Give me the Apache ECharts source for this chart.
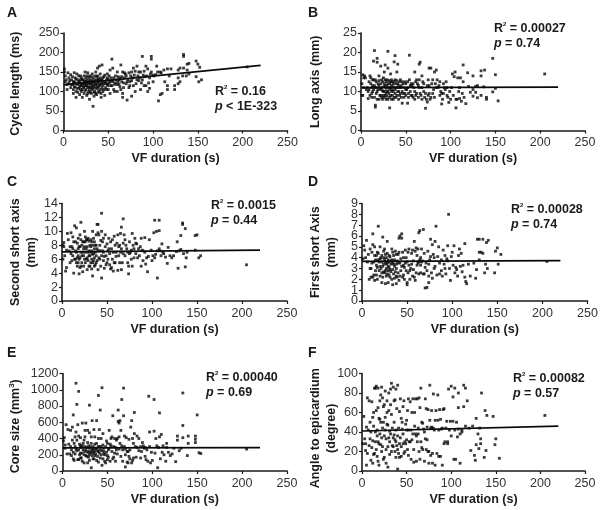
<!DOCTYPE html>
<html><head><meta charset="utf-8">
<style>html,body{margin:0;padding:0;background:#fff}#c{width:602px;height:510px}</style>
<script src="https://cdn.jsdelivr.net/npm/echarts@6/dist/echarts.min.js"></script>
</head><body><div id="c"></div>
<script>
const xTicksMax = 250;
const firstShortEvenTicks=[0,2,4,6,8], firstShortOddTicks=[1,3,5,7,9];
const trendA=[[0,117],[220,167]], trendB=[[0,11],[220,11.1]], trendC=[[0,7.05],[220,7.3]],
      trendD=[[0,3.65],[220,3.72]], trendE=[[0,285],[220,288]], trendF=[[0,41],[220,46]];
const pointsA=[[205,163],[134,195],[134,190],[98,190],[98,183],[88,190],[54,183],[148,178],[150,170],[152,162],[154,130],[106,76],[33,62],[140,172],[138,170],[134,160],[130,160],[138,155],[128,155],[140,145],[137,140],[148,138],[151,125],[124,105],[124,115],[116,105],[116,115],[110,95],[108,92],[130,125],[128,120],[128,135],[133,140],[120,158],[116,158],[112,155],[108,150],[103,143],[100,142],[96,135],[95,122],[92,115],[94,100],[96,108],[100,125],[88,130],[90,115],[86,105],[84,128],[82,130],[78,160],[82,165],[80,152],[84,150],[76,150],[86,150],[90,152],[94,158],[98,150],[104,165],[92,165],[75,140],[72,130],[70,120],[73,110],[78,115],[80,100],[76,88],[71,78],[66,85],[66,95],[60,100],[62,118],[65,125],[68,135],[66,150],[64,168],[55,160],[60,150],[58,140],[52,155],[50,130],[48,120],[54,115],[50,105],[46,90],[42,85],[44,100],[40,165],[43,168],[38,160],[36,150],[38,140],[1,158],[1,150],[2,140],[3,130],[2,125],[4,118],[4,105],[5,148],[6,135],[6,122],[8,110],[8,143],[9,130],[10,118],[11,105],[11,95],[12,148],[12,125],[13,135],[13,112],[14,85],[14,100],[15,145],[15,120],[16,130],[17,108],[18,92],[18,125],[19,140],[19,115],[20,100],[21,130],[21,85],[22,120],[22,110],[23,140],[23,95],[24,150],[24,125],[25,105],[25,135],[26,115],[26,90],[27,148],[27,128],[28,120],[28,100],[29,140],[29,80],[30,112],[30,130],[31,95],[31,122],[32,145],[32,105],[33,135],[33,115],[34,88],[34,125],[35,100],[35,140],[36,118],[37,128],[37,92],[38,108],[39,125],[39,132],[40,98],[41,115],[41,145],[42,128],[43,108],[44,135],[45,120],[46,142],[47,110],[48,130],[49,145],[51,122],[52,95],[53,135],[55,125],[56,105],[57,118],[59,130],[61,138],[63,112],[67,122],[69,145],[74,125],[77,135]];
const denseA=[[7,128],[9,118],[10,138],[11,125],[12,112],[13,122],[14,132],[15,108],[16,118],[16,98],[17,140],[17,125],[18,112],[19,105],[19,130],[20,120],[20,135],[21,115],[21,105],[22,130],[23,125],[23,112],[24,118],[24,102],[25,128],[25,115],[26,140],[26,122],[27,110],[27,95],[28,135],[28,112],[29,125],[29,105],[30,120],[30,98],[31,138],[31,110],[32,128],[32,118],[33,108],[33,125],[34,112],[34,98],[35,130],[35,120],[36,108],[36,95],[37,138],[37,115],[38,122],[38,130],[39,112],[39,100],[40,128],[40,118],[41,105],[41,135],[42,120],[42,95],[43,130],[43,122],[44,115],[45,105],[45,138],[46,125],[47,122],[48,105],[49,118],[49,135],[50,115],[51,140],[52,125],[53,115],[54,128],[56,135],[57,100],[58,122],[60,118],[61,125],[62,130],[63,135],[64,105],[65,138],[67,110],[68,148],[70,140],[71,125],[73,148],[74,115],[76,128],[79,142],[81,120],[83,140],[85,135],[87,122],[89,142],[91,138],[93,140],[97,145],[101,140],[105,150],[109,148],[113,125],[118,140]];
const pointsB=[[205,14.5],[147,18.5],[150,14.3],[150,10.8],[153,7.6],[147,9.9],[140,8.5],[140,8],[138,15.5],[137,11.2],[134,15.3],[134,14],[134,9],[130,11.5],[130,8.4],[128,11.3],[128,9.8],[125,8.8],[125,14],[125,10.5],[122,9.8],[119,14.8],[117,6.9],[114,16.8],[114,12.5],[115,8.5],[112,7.5],[110,8.2],[108,13.5],[105,15],[106,5.8],[106,8],[104,13.8],[102,14.5],[101,11],[98,7.2],[96,11],[96,9],[92,12],[92,9.5],[90,6.8],[88,12.5],[86,11],[84,15.5],[82,15],[82,8.5],[80,13],[78,16],[76,16],[76,11.5],[74,7.3],[72,5.7],[72,9.5],[70,12],[68,14],[66,17.5],[65,17],[65,11],[64,8.5],[62,13],[60,15],[60,10],[58,12],[56,9],[54,19.3],[54,13],[52,7],[50,12],[49,9.5],[46,7],[44,13],[42,10],[41,17],[40,15],[38,19.2],[37,17.6],[36,12],[35,9],[34,8],[33,14.5],[32,5.8],[30,20.3],[30,16],[31,11],[29,13],[28,9.5],[27,16.8],[26,15],[26,12],[25,10],[24,8],[23,13],[22,16.5],[20,14],[21,9],[18,18.5],[18,17.5],[17,11],[16,6.5],[16,6],[15,20.5],[14,17.8],[14,13],[13,10],[12,8.5],[10,14],[11,12],[9,10.5],[8,8.2],[5,13.5],[4,14],[3,11],[2,9],[2,14.3],[1,9],[1,12],[6,10.5],[7,11],[12,11],[13,13],[15,11.5],[17,9.5],[19,12],[20,8],[22,10.5],[23,11],[24,12.5],[25,9],[26,8.5],[27,11.5],[28,12.5],[29,10],[30,8],[31,12.8],[32,10.5],[33,9],[34,11.5],[35,12.5],[36,10],[37,8.5],[38,13],[39,11],[40,9],[41,12],[42,8],[43,11],[44,9.5],[45,11.5],[46,10],[47,12],[48,8.5],[50,10.5],[52,11],[53,9.5],[55,10],[57,11.5],[58,8.5],[61,9],[63,12],[66,9.5],[68,8],[70,10],[73,8],[75,9],[77,8],[80,9.5],[84,11],[88,9],[90,9.5],[94,10.5],[100,8],[110,11],[120,11.3]];
const denseB=[[3,13.5],[8,10],[9,12.5],[10,9],[11,13.5],[12,9.5],[13,11.5],[14,10.5],[15,8.5],[16,11],[16,13],[17,12.5],[18,10],[18,8],[19,10.5],[20,11.5],[20,12.8],[21,10.8],[22,9],[22,12],[23,8.5],[24,10.2],[25,11.2],[25,13.5],[26,10],[27,9],[27,13],[28,10.8],[28,8],[29,11.5],[29,8.8],[30,12],[30,10],[31,9.5],[32,12],[32,8.5],[33,11],[33,12.5],[34,10],[34,13],[35,10.5],[36,8],[36,11.2],[37,12.5],[38,9.5],[38,10.5],[39,12],[39,8.5],[40,11],[40,12.8],[41,10],[42,11.5],[43,9],[43,12.5],[44,11],[45,8.5],[46,12.5],[47,9.5],[48,11],[49,12.5],[50,9],[51,10.5],[52,12.5],[53,8.5],[55,11.5],[56,12],[57,9],[59,11],[60,8],[61,12.5],[62,9.5],[64,11.5],[65,13],[67,9],[68,11],[69,12.5],[71,8.5],[74,11.5],[75,13],[76,9.5],[78,8.5],[79,12],[81,10.5],[83,12],[85,13],[87,11.5],[89,10],[91,8],[93,11],[95,12.5],[97,8.5],[99,10],[103,9],[107,8],[109,10],[111,13.5],[113,9.5]];
const pointsC=[[205,5.2],[154,6.5],[152,6.2],[150,9.5],[148,9.4],[148,7.3],[139,7],[138,6.2],[137,10.4],[137,4.9],[134,11.2],[134,11],[132,7.4],[132,9.4],[130,7.2],[129,4.7],[128,8.5],[124,6.5],[122,6.2],[118,7.7],[117,5.4],[115,6.3],[112,7],[110,6.5],[108,11.6],[108,10.1],[108,7.5],[106,3.3],[105,10],[103,11.6],[102,9.8],[101,6.5],[100,5.8],[97,8.8],[95,4.2],[93,5.3],[92,9.1],[90,7.2],[88,9],[88,5],[85,7.5],[83,8.2],[81,9],[80,6.2],[78,9.7],[76,7],[74,5],[74,3.9],[73,7],[70,6.5],[68,11.8],[68,8.3],[66,10.6],[65,9.7],[64,8],[63,6.5],[62,4.4],[60,7],[58,9.3],[57,4.3],[56,6],[54,8.5],[52,7.5],[50,5.5],[48,9.5],[46,7],[44,12.6],[44,10],[44,3.3],[42,8],[40,11],[39,11],[38,9.5],[38,5.5],[36,7.5],[34,10],[34,3.6],[33,6],[32,8.8],[31,5],[30,7.2],[29,9],[28,4.5],[27,7.5],[26,8.5],[26,5.5],[25,10],[24,6.5],[23,4.2],[22,8],[21,11.3],[20,9.5],[20,6.2],[19,3.9],[18,7.5],[17,5],[16,10.5],[15,8.5],[15,6],[14,10.8],[13,4],[12,9.2],[12,6.5],[11,7.8],[10,9.8],[9,5.5],[8,7.2],[6,9.7],[5,7.3],[5,4.8],[4,4.3],[2,8.4],[2,7.8],[1,8],[1,6],[16,7],[17,6.2],[18,5.5],[19,6],[20,7.8],[21,5],[22,6.5],[23,7],[24,8.5],[25,7.8],[27,6],[28,8.8],[29,5.8],[30,6.5],[31,8],[32,7],[33,8.5],[34,5.5],[35,6.8],[36,5],[37,8],[38,6.5],[39,7.5],[40,4.5],[41,9.5],[42,6],[43,5],[45,8.5],[46,5.8],[47,4.7],[49,6.5],[51,7.2],[53,5.2],[55,4.8],[59,5.5],[61,8.3],[66,7.5],[67,5.5],[69,9.5],[71,8],[75,6.8],[77,6],[79,8],[82,6.8],[86,6.5],[89,7.3],[94,6.2],[104,6.7],[111,8.2]];
const denseC=[[3,6.5],[7,8.8],[9,7.8],[10,6.8],[11,5.8],[12,7.5],[13,8.5],[14,6],[15,7.2],[16,5.5],[17,8.3],[18,6.5],[18,9],[19,7.8],[20,4.8],[21,7],[21,8.8],[22,5.5],[23,8.5],[24,7.5],[24,5],[25,6],[26,7],[26,9.2],[27,8.8],[28,6.2],[28,7.8],[29,7],[30,8.6],[30,5],[31,6.5],[32,5.5],[32,7.8],[33,7.2],[33,4.6],[34,8],[34,6.7],[35,9],[35,5.8],[36,6.2],[36,8.5],[37,5.2],[37,7],[38,8],[39,5.8],[40,7.2],[40,9.8],[41,6.2],[42,7.2],[43,8.7],[44,6.5],[45,7.2],[46,9],[47,6.4],[48,7.8],[49,5.2],[50,8.2],[51,6],[52,9],[53,6.8],[54,4.6],[55,7.5],[56,8.8],[57,7],[58,5.5],[59,8],[60,6.4],[62,9.5],[63,7.8],[64,5.5],[65,7],[66,4.5],[68,6.8],[70,8.8],[72,7.5],[73,5.5],[75,8.5],[77,7.3],[78,5],[80,7.5],[82,8.3],[84,6.2],[87,7.8],[90,5.8],[92,7],[96,6.4],[99,7.3],[103,6.2],[106,7.2],[109,7.2],[113,6.8],[120,6.5],[127,7.1],[135,6.8]];
const pointsD=[[205,3.65],[154,4.3],[151,3.4],[150,4.9],[148,4.6],[147,2.6],[140,5.6],[139,3],[138,5.4],[137,3.4],[136,2.6],[134,5.7],[134,4.4],[132,4.5],[130,5.7],[130,4.5],[130,3.8],[128,5.7],[127,2.9],[126,2.1],[124,3.5],[120,2.3],[116,1.6],[114,5.3],[114,2.2],[115,1.8],[112,3.3],[110,4.4],[108,4.8],[106,2.3],[104,3.1],[102,5.1],[100,4.5],[98,1.9],[96,8],[95,5.1],[94,3.9],[92,3],[90,4.7],[88,2.8],[86,2.5],[85,5],[82,6.9],[81,5.5],[80,4],[78,5.2],[76,5.7],[74,1.7],[72,1.25],[70,1.2],[70,3.1],[68,6.6],[66,4.8],[65,2.6],[64,6.5],[63,6.3],[62,3.5],[60,4.9],[58,5.5],[58,2.2],[56,4.7],[54,3],[52,4.8],[50,1.5],[50,1.7],[48,3.5],[46,2.4],[44,6.2],[44,5.8],[42,6],[41,5.8],[40,4.3],[38,2.3],[38,1.6],[36,3.2],[34,4.5],[34,1.5],[32,2.7],[30,4.2],[29,1.7],[28,5.5],[27,3],[26,1.6],[25,3.8],[24,4.6],[23,5.9],[22,2.6],[20,3.2],[22,1.7],[20,5],[18,3.8],[18,6.9],[17,2],[16,4.2],[15,2.8],[14,5],[14,1.9],[12,6.2],[12,5.2],[11,3.5],[10,2.2],[9,4.8],[8,2],[6,3.6],[5,5.6],[4,4],[3,4.7],[2,5.1],[1,3.9],[10,3],[13,2.4],[16,3.3],[17,4.5],[19,3.6],[20,2.3],[21,4],[23,3.2],[24,2.7],[26,4.3],[27,2.3],[28,3.5],[29,2.8],[30,3.1],[31,2.2],[32,3.7],[33,4.8],[34,2.9],[35,3.4],[36,2.1],[37,4.6],[38,3],[39,3.7],[40,2.6],[41,1.9],[42,3.5],[43,2.8],[45,4.5],[46,3.3],[47,2],[49,4],[51,2.6],[53,2.8],[55,3.4],[57,2.9],[59,1.9],[61,4.2],[63,3.6],[65,3.3],[67,3.7],[69,2.5],[72,2.8],[74,3.4],[76,4.1],[78,2.1],[80,3],[83,2.4],[88,3.8],[92,4.2],[97,3],[105,2.9]];
const denseD=[[7,4.3],[9,3],[11,4.5],[12,2.2],[13,3.6],[14,4.2],[15,3.8],[16,2.4],[17,3.1],[18,4.4],[19,2.8],[20,3.9],[21,3],[22,4.2],[22,3.6],[23,2.2],[24,3.4],[24,4],[25,2.6],[25,4.8],[26,3.6],[26,2.8],[27,4],[27,3.4],[28,2.5],[28,4.4],[29,3.2],[29,3.8],[30,2.4],[30,3.6],[31,4.1],[31,2.9],[32,3.4],[33,2],[33,3.8],[34,3.5],[35,2.5],[35,4.2],[36,3.8],[37,2.7],[38,4.3],[38,3.4],[39,2.2],[40,3.5],[41,4.5],[42,2.3],[43,3.9],[44,3.2],[45,2.2],[46,4],[47,3.1],[48,4.7],[49,2.8],[50,3.6],[51,4.5],[52,3.3],[53,2],[55,4.4],[56,2.3],[57,3.7],[59,4.6],[60,2.6],[61,3.3],[62,4.8],[63,2.5],[64,3.8],[65,4],[66,3.6],[68,2.5],[69,4.4],[71,3.5],[73,4.6],[74,2.3],[75,3.8],[77,2.6],[79,4.3],[81,3.2],[84,4.1],[86,3.5],[89,2.3],[91,3.4],[93,2.5],[95,3.7],[99,4.1],[101,3.3],[103,2.6],[107,4.2],[109,3.2],[111,2.7],[118,3.4]];
const pointsE=[[205,270],[154,215],[152,225],[150,690],[148,430],[148,390],[148,350],[140,430],[140,340],[139,190],[134,960],[134,560],[134,410],[132,280],[130,250],[128,430],[128,380],[126,115],[124,280],[120,190],[116,340],[115,120],[113,200],[110,450],[108,715],[108,420],[106,40],[105,310],[102,880],[102,490],[100,130],[98,100],[97,480],[96,920],[94,260],[92,180],[90,310],[88,240],[85,400],[82,170],[80,720],[80,460],[78,130],[76,540],[74,390],[72,110],[70,50],[70,200],[68,1020],[68,680],[66,880],[64,620],[63,590],[62,750],[60,380],[58,220],[56,680],[54,310],[52,500],[50,190],[48,100],[46,280],[44,1025],[42,750],[41,510],[40,930],[40,400],[38,620],[36,330],[34,220],[33,620],[32,40],[30,810],[30,470],[29,170],[28,350],[26,590],[25,240],[24,100],[22,590],[22,310],[20,410],[18,980],[18,140],[16,820],[15,1080],[15,480],[14,300],[12,690],[11,540],[10,190],[9,500],[8,210],[6,510],[5,210],[4,570],[3,320],[2,410],[1,370],[12,230],[13,130],[14,420],[16,250],[17,570],[18,430],[19,200],[20,310],[21,160],[22,120],[23,260],[24,380],[25,500],[26,190],[27,290],[28,100],[29,240],[30,200],[31,300],[32,420],[33,260],[34,150],[35,510],[35,230],[36,190],[37,280],[38,130],[39,250],[40,300],[41,220],[42,160],[43,300],[44,70],[45,460],[46,240],[47,200],[49,370],[50,140],[51,260],[53,330],[55,420],[57,170],[59,290],[61,400],[63,270],[65,180],[67,260],[69,300],[71,410],[73,240],[75,150],[77,100],[79,340],[83,290],[87,300],[92,290],[95,120],[103,220],[111,230],[118,230]];
const denseE=[[3,280],[7,330],[9,300],[10,260],[11,380],[12,150],[13,340],[14,210],[15,270],[16,380],[17,140],[18,260],[19,330],[20,220],[20,160],[21,290],[22,220],[23,340],[24,200],[25,300],[25,420],[26,260],[27,180],[28,230],[28,500],[29,310],[30,280],[30,130],[31,220],[32,240],[32,340],[33,190],[34,300],[34,270],[35,150],[36,250],[36,420],[37,210],[38,280],[38,340],[39,180],[40,240],[40,110],[41,300],[42,260],[43,200],[43,400],[44,250],[45,150],[45,320],[46,210],[47,120],[48,300],[49,230],[50,340],[51,170],[52,280],[53,120],[54,400],[55,240],[56,150],[57,300],[58,400],[59,120],[60,260],[61,210],[62,610],[63,420],[64,340],[65,500],[66,310],[67,120],[69,430],[70,270],[72,240],[73,100],[74,180],[75,260],[77,620],[78,400],[79,160],[81,300],[83,430],[85,250],[87,160],[89,350],[91,280],[93,140],[97,300],[99,230],[104,400],[107,290],[109,150],[112,310],[116,290],[122,210]];
const pointsF=[[205,57],[154,13],[150,33],[149,27],[147,56],[140,57],[139,21],[138,62],[137,14],[134,80],[133,33],[133,28],[132,44],[131,23],[130,38],[128,54],[128,27],[127,11],[126,16],[124,46],[122,21],[118,72],[116,85],[114,88],[114,66],[112,42],[110,8],[108,80],[108,65],[107,35],[105,12],[103,12],[102,76],[100,87],[99,51],[97,84],[96,30],[94,44],[92,64],[90,6],[88,15],[87,63],[85,52],[82,6],[80,79],[78,45],[76,88],[74,63],[72,22],[70,10],[68,49],[66,85],[64,75],[63,38],[62,30],[60,74],[58,9],[56,60],[54,71],[52,74],[50,52],[48,30],[46,66],[45,43],[44,15],[42,61],[40,88],[40,2],[38,84],[37,73],[36,50],[35,25],[33,90],[32,68],[31,41],[30,80],[29,4],[28,60],[27,33],[26,82],[25,14],[24,50],[23,75],[22,86],[21,27],[20,53],[19,6],[18,65],[17,36],[16,87],[15,85],[14,18],[13,46],[12,31],[11,71],[10,11],[9,50],[8,26],[7,42],[6,75],[5,6],[4,21],[3,33],[2,56],[1,28],[12,8],[13,60],[15,30],[16,22],[17,42],[18,10],[19,54],[20,38],[21,78],[22,20],[23,44],[24,12],[25,68],[26,42],[27,22],[28,72],[29,47],[30,34],[31,17],[32,38],[33,58],[34,26],[35,86],[36,37],[37,20],[38,30],[39,64],[40,22],[41,44],[42,14],[43,34],[44,54],[46,28],[47,18],[49,48],[50,32],[51,22],[52,42],[54,30],[55,12],[57,38],[59,46],[61,36],[65,12],[67,24],[69,43],[71,74],[73,32],[75,20],[77,44],[79,18],[81,42],[83,62],[86,15],[89,43],[92,28],[96,28],[104,42],[110,38]];
const denseF=[[4,28],[5,45],[6,18],[8,72],[9,33],[10,40],[11,24],[12,55],[13,17],[14,85],[15,40],[16,62],[17,15],[18,30],[18,85],[19,28],[20,72],[21,50],[22,34],[23,25],[24,66],[25,36],[26,55],[27,8],[28,48],[29,25],[30,62],[31,30],[32,84],[33,20],[34,44],[35,34],[36,72],[37,32],[38,42],[38,14],[39,26],[40,36],[41,18],[42,28],[43,74],[44,25],[45,50],[46,38],[47,72],[48,20],[49,28],[50,42],[51,62],[52,16],[53,30],[55,42],[56,32],[57,74],[58,22],[59,60],[60,38],[61,10],[62,74],[63,44],[64,20],[65,65],[66,30],[67,50],[68,22],[70,40],[71,33],[72,64],[73,45],[74,20],[75,8],[76,52],[77,16],[78,62],[79,8],[80,44],[82,52],[84,18],[85,78],[86,42],[88,53],[90,44],[91,63],[93,30],[95,51],[98,42],[100,36],[102,51],[104,85],[106,50],[108,43],[112,40],[116,46],[120,44]];

const panels=[
 {id:'A',pts:pointsA.concat(denseA),trend:trendA,yMax:250,yInt:50,name:'Cycle length (ms)',l:63.5,t:33,w:224,h:97.5,gap:40,pad:4,lx:7,ly:6,tx:215,ty:84,r:'0.16',p:' < 1E-323'},
 {id:'B',pts:pointsB.concat(denseB),trend:trendB,yMax:25,yInt:5,name:'Long axis (mm)',l:361,t:33,w:224,h:97.5,gap:37,pad:0,lx:308,ly:6,tx:494,ty:21,r:'0.00027',p:' = 0.74'},
 {id:'C',pts:pointsC.concat(denseC),trend:trendC,yMax:14,yInt:2,name:'Second short axis\n(mm)',l:62,t:203.5,w:225,h:97.5,gap:22,pad:0,lx:7,ly:175,tx:211,ty:198,r:'0.0015',p:' = 0.44'},
 {id:'D',pts:pointsD.concat(denseD),trend:trendD,yMax:9,yInt:1,name:'First short Axis\n(mm)',l:362,t:203.5,w:225.5,h:97.5,gap:22,pad:0,lx:308,ly:175,tx:511,ty:202,r:'0.00028',p:' = 0.74',labelSets:[firstShortEvenTicks,firstShortOddTicks]},
 {id:'E',pts:pointsE.concat(denseE),trend:trendE,yMax:1200,yInt:200,name:'Core size (mm{s|3})',l:62.5,t:373.5,w:224.5,h:97.5,gap:39,pad:8,lx:7,ly:346,tx:206,ty:370,r:'0.00040',p:' = 0.69'},
 {id:'F',pts:pointsF.concat(denseF),trend:trendF,yMax:100,yInt:20,name:'Angle to epicardium\n(degree)',l:362,t:373.5,w:223,h:97.5,gap:22,pad:12,lx:308,ly:346,tx:513,ty:371,r:'0.00082',p:' = 0.57'}
];

const ink='#1a1a1a', lbl='#333333';
const font='"Liberation Sans", Arial, sans-serif';
const base={fontFamily:font,fontWeight:'bold',fontSize:12.5,color:ink};
const option={animation:false,backgroundColor:'#fff',grid:[],xAxis:[],yAxis:[],series:[],title:[],graphic:[]};
const extraAxes=[];
panels.forEach((p,i)=>{
  option.grid.push({left:p.l,top:p.t,width:p.w,height:p.h});
  const line={show:true,lineStyle:{color:ink,width:1.6}};
  const tick={show:true,length:3,lineStyle:{color:ink,width:1.2}};
  const axisLabel={color:lbl,fontSize:12.5,fontFamily:font,hideOverlap:false,showMinLabel:true,showMaxLabel:true,formatter:v=>String(v)};
  option.xAxis.push({type:'value',gridIndex:i,min:0,max:xTicksMax,interval:50,name:'VF duration (s)',nameLocation:'middle',nameGap:22,nameMoveOverlap:false,
    nameTextStyle:base,axisLine:{...line,onZero:false},axisTick:tick,splitLine:{show:false},axisLabel:{...axisLabel,margin:6}});
  const yLabel={...axisLabel,margin:4};
  if(p.labelSets) yLabel.customValues=p.labelSets[0];
  option.yAxis.push({type:'value',gridIndex:i,position:'left',min:0,max:p.yMax,interval:p.yInt,name:p.name,nameLocation:'middle',nameGap:p.gap,nameMoveOverlap:false,
    nameTextStyle:{...base,lineHeight:16,padding:[0,p.pad,0,0],rich:{s:{...base,fontSize:8,verticalAlign:'top',lineHeight:15}}},
    axisLine:{...line,onZero:false},axisTick:tick,splitLine:{show:false},axisLabel:yLabel});
  if(p.labelSets) extraAxes.push({type:'value',gridIndex:i,position:'left',offset:0,min:0,max:p.yMax,interval:p.yInt,
    axisLine:{show:false,onZero:false},axisTick:{show:false},splitLine:{show:false},axisLabel:{...axisLabel,margin:4,customValues:p.labelSets[1]}});
  option.series.push({type:'scatter',xAxisIndex:i,yAxisIndex:i,data:p.pts,symbol:'rect',symbolSize:2.8,itemStyle:{color:'#0a0a0a'},silent:true,z:2});
  option.series.push({type:'line',xAxisIndex:i,yAxisIndex:i,data:p.trend,symbol:'none',lineStyle:{color:'#0a0a0a',width:1.7},silent:true,z:3});
  option.title.push({text:'{b|R}{s|2}{b| = '+p.r+'}\n{i|p}{b|'+p.p+'}',left:p.tx,top:p.ty,padding:0,
    textStyle:{...base,lineHeight:15,rich:{b:{...base,lineHeight:15},s:{...base,fontSize:6,lineHeight:15,verticalAlign:'top'},i:{...base,fontStyle:'italic',lineHeight:15}}}});
  option.graphic.push({type:'text',left:p.lx,top:p.ly,style:{text:p.id,font:'bold 14px '+font,fill:ink}});
});
option.yAxis.push(...extraAxes);
echarts.init(document.getElementById('c'),null,{renderer:'canvas'}).setOption(option);
</script></body></html>
